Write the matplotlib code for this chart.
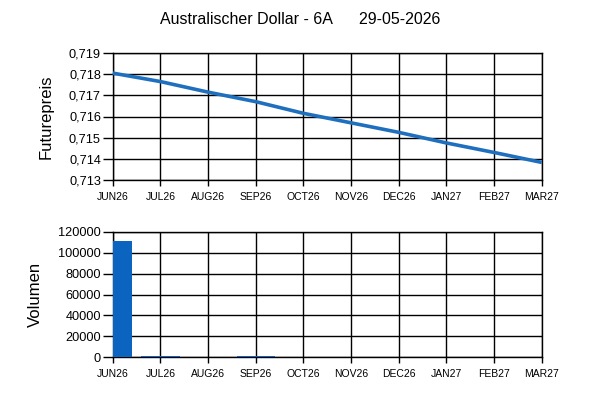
import matplotlib
matplotlib.use("Agg")
import matplotlib.pyplot as plt
from matplotlib.ticker import FuncFormatter

plt.rcParams['font.family'] = ['Liberation Sans', 'DejaVu Sans']

monate = ["JUN26", "JUL26", "AUG26", "SEP26", "OCT26", "NOV26", "DEC26", "JAN27", "FEB27", "MAR27"]
preise = [0.71805, 0.71765, 0.71715, 0.71670, 0.71615, 0.71570, 0.71525, 0.71475, 0.71430, 0.71383]
volumen = [111000, 800, 0, 700, 0, 0, 0, 0, 0, 0]

fig = plt.figure(figsize=(6, 4), dpi=100)
fig.text(0.5, 0.95, "Australischer Dollar - 6A      29-05-2026", ha="center", va="center", fontsize=11.5)

ax1 = fig.add_axes([0.188, 0.55, 0.715, 0.3175])
ax2 = fig.add_axes([0.188, 0.1075, 0.715, 0.3125])

x = list(range(len(monate)))

# Preiskurve
ax1.plot(x, preise, color="#1f6fbf", lw=2.6, solid_capstyle="butt", clip_on=False, zorder=3)
ax1.set_ylim(0.713, 0.719)
ax1.set_yticks([0.713, 0.714, 0.715, 0.716, 0.717, 0.718, 0.719])
ax1.yaxis.set_major_formatter(FuncFormatter(lambda v, p: ("%.3f" % v).replace(".", ",")))
ax1.set_ylabel("Futurepreis", fontsize=12)
ax1.yaxis.set_label_coords(-0.139, 0.5)

# Volumen
ax2.bar(x, volumen, width=0.8, color="#0a64c0", zorder=3)
ax2.set_ylim(0, 120000)
ax2.set_yticks(range(0, 120001, 20000))
ax2.set_ylabel("Volumen", fontsize=12)
ax2.yaxis.set_label_coords(-0.162, 0.5)

for ax in (ax1, ax2):
    ax.set_xlim(0, len(monate) - 1)
    ax.set_xticks(x)
    ax.set_xticklabels(monate, fontsize=7.5)
    ax.tick_params(axis="y", labelsize=9.2, length=7, width=1, pad=1.5)
    ax.tick_params(axis="x", length=4, width=1, pad=4.5)
    ax.grid(True, color="black", lw=1)
    ax.set_axisbelow(True)
    for s in ax.spines.values():
        s.set_color("black")
        s.set_linewidth(1)

fig.savefig("out.png", dpi=100)
